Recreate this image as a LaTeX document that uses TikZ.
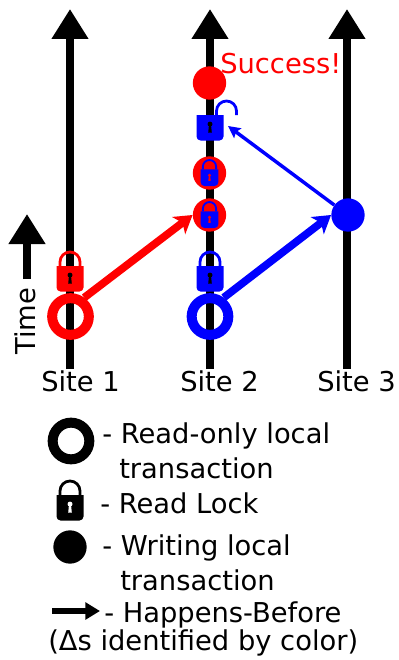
\documentclass[tikz,border=0pt]{standalone}
\usepackage{fontspec}
\setmainfont{DejaVu Sans}
\usetikzlibrary{arrows.meta}
\tikzset{
  labeltext/.style={anchor=base west,inner sep=0pt,font=\fontsize{20.5}{24}\selectfont},
  timeline/.style={line width=5.6pt,-{Triangle[width=26.25pt,length=22.5pt]}},
  ringtxn/.style={circle,draw=#1,line width=7.5pt,inner sep=0pt,minimum size=27.5pt},
  disctxn/.style={circle,fill=#1,inner sep=0pt,minimum size=25pt},
  thickhb/.style={draw=#1,line width=5.8pt,-{Stealth[width=16pt,length=13pt,inset=3.5pt]}},
  thinhb/.style={draw=#1,line width=2.6pt,-{Stealth[width=9pt,length=9pt,inset=1.5pt]}},
  biglock/.style={line width=2.1pt},
  smalllock/.style={scale=0.66,line width=1.4pt},
  pics/padlock/.style n args={3}{code={
    \fill [#1] (-13.5,12.5) [sharp corners] -- (13.5,12.5) [rounded corners=3pt] -- (13.5,-13) -- (-13.5,-13) [sharp corners] -- cycle;
    \draw [#1] (#3-10,12.5) -- (#3-10,16.5) arc [start angle=180,end angle=0,radius=10] -- (#3+10,12.5);
    \fill [#2] (0,3.4) circle [radius=2.5];
    \fill [#2] (-1,3) -- (1,3) -- (1.8,-5) -- (-1.8,-5) -- cycle;
    \coordinate (-side) at (18,1.5);
  }},
}
\begin{document}
\begin{tikzpicture}[x=0.75pt,y=0.75pt,yscale=-1,xscale=1]
\useasboundingbox (0,0) rectangle (399,660);

% Time lines
\coordinate (siteAfoot) at (70,369);
\coordinate (siteAtop) at (70,9);
\coordinate (siteBfoot) at (210,369);
\coordinate (siteBtop) at (210,9);
\coordinate (siteCfoot) at (347,369);
\coordinate (siteCtop) at (347,9);
\coordinate (timefoot) at (27,279);
\coordinate (timetop) at (27,214);
\draw [timeline] (siteAfoot) -- (siteAtop);
\draw [timeline] (siteBfoot) -- (siteBtop);
\draw [timeline] (siteCfoot) -- (siteCtop);
\draw [timeline] (timefoot) -- (timetop);

% Transactions
\node [ringtxn=red] (ringA) at (70.5,316.5) {};
\node [ringtxn=blue] (ringB) at (210,316.5) {};
\node [disctxn=red] (discA) at (209.5,83) {};
\node [disctxn=red] (discB) at (209.5,173) {};
\node [disctxn=red] (discC) at (209.5,215) {};
\node [disctxn=blue] (discD) at (348,215) {};

% Locks
\pic [biglock] (lockA) at (70,278.5) {padlock={red}{black}{0}};
\pic [biglock] (lockB) at (210,278.5) {padlock={blue}{black}{0}};
\pic [biglock] (lockC) at (210,127.5) {padlock={blue}{black}{16.5}};
\pic [smalllock] (lockD) at (209.5,177.5) {padlock={blue}{red}{0}};
\pic [smalllock] (lockE) at (209.5,219.5) {padlock={blue}{red}{0}};

% Connection
\draw [thickhb=red] (ringA.54) -- (discC.west);
\draw [thickhb=blue] (ringB.54) -- (discD.west);
\draw [thinhb=blue] (discD.144) -- (lockC-side);

% Text Node
\node [labeltext,text=red] (success) at (220,74) {Success!};
\node [labeltext,rotate=90] (time) at (35,355) {Time};
\node [labeltext] (siteA) at (41,391) {Site 1};
\node [labeltext] (siteB) at (180,391) {Site 2};
\node [labeltext] (siteC) at (317,391) {Site 3};

% Legend
\node [ringtxn=black] (ringkey) at (71,441) {};
\pic [biglock] (lockkey) at (70,507.5) {padlock={black}{white}{0}};
\node [disctxn=black] (disckey) at (70,547) {};
\coordinate (arrowkeyfoot) at (52,611);
\coordinate (arrowkeytip) at (100,611);
\draw [line width=5.2pt,-{Triangle[width=12.5pt,length=11pt]}] (arrowkeyfoot) -- (arrowkeytip);
\node [labeltext] (keyA) at (102,443) {- Read-only local};
\node [labeltext] (keyAb) at (119,478) {transaction};
\node [labeltext] (keyB) at (100,513) {- Read Lock};
\node [labeltext] (keyC) at (102,555) {- Writing local};
\node [labeltext] (keyCb) at (120,590) {transaction};
\node [labeltext] (keyD) at (104,622) {- Happens-Before};
\node [labeltext] (keyE) at (48,650) {(Δs identified by color)};

\end{tikzpicture}
\end{document}
